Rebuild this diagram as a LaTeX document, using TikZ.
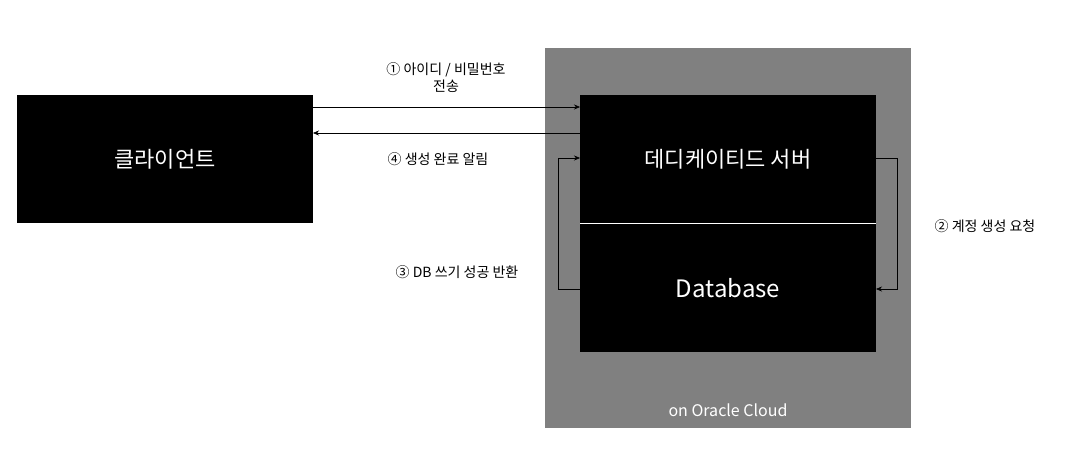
\documentclass[tikz,border=0pt]{standalone}
\usepackage{fontspec}
\setmainfont{Noto Sans CJK KR}
\usetikzlibrary{arrows.meta}
\begin{document}
\begin{tikzpicture}[x=1pt,y=-1pt,
  blk/.style={fill=black,draw=none,text=white},
  arr/.style={-{Stealth[length=6pt,width=5pt]},line width=0.5pt},
  lbl/.style={font=\fontsize{14}{17}\selectfont,align=center}]
\useasboundingbox (0,0) rectangle (1076,456);
\fill[white] (0,0) rectangle (1076,456);
\node[fill={rgb,255:red,128;green,128;blue,128},minimum width=366pt,minimum height=380pt,inner sep=0pt] (cloud) at (728,238) {};
\node[text=white,font=\fontsize{16}{19}\selectfont] (cl) at (728,410) {on Oracle Cloud};
\node[blk,minimum width=296pt,minimum height=128pt,inner sep=0pt,font=\fontsize{22}{26}\selectfont] (client) at (165,159) {클라이언트};
\node[blk,minimum width=296pt,minimum height=129pt,inner sep=0pt,font=\fontsize{22}{26}\selectfont] (server) at (728,159.5) {데디케이티드 서버};
\node[blk,minimum width=296pt,minimum height=128pt,inner sep=0pt,font=\fontsize{24}{28}\selectfont] (db) at (728,288) {Database};
\draw[white,line width=0.8pt] (db.north west) -- (db.north east);
\coordinate (a1) at (313,107); \coordinate (b1) at (580,107);
\coordinate (a2) at (580,133); \coordinate (b2) at (313,133);
\draw[arr] (a1) -- (b1);
\draw[arr] (a2) -- (b2);
\coordinate (r1) at (876,158); \coordinate (r2) at (876,289);
\draw[arr] (r1) -- (897,158) -- (897,289) -- (r2);
\coordinate (l1) at (580,289); \coordinate (l2) at (580,158);
\draw[arr] (l1) -- (558,289) -- (558,158) -- (l2);
\node[lbl] (t1) at (446,78) {① 아이디 / 비밀번호\\전송};
\node[lbl] (t4) at (438,159) {④ 생성 완료 알림};
\node[lbl] (t2) at (985,226) {② 계정 생성 요청};
\node[lbl] (t3) at (457,272) {③ DB 쓰기 성공 반환};
\end{tikzpicture}
\end{document}
